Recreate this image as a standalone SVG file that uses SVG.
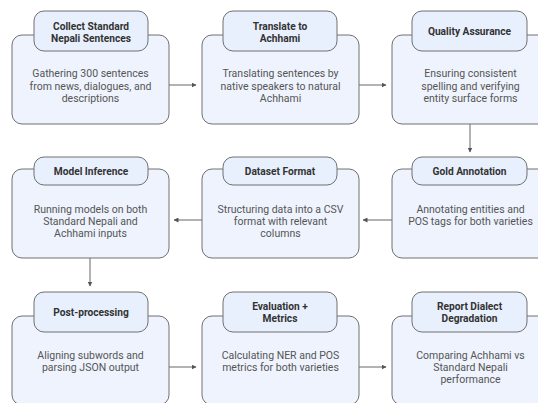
<svg xmlns="http://www.w3.org/2000/svg" width="538" height="403" viewBox="0 0 538 403">
<defs>
<marker id="ah" viewBox="0 0 10 10" refX="9" refY="5" markerWidth="5" markerHeight="5" orient="auto" markerUnits="userSpaceOnUse">
<path d="M0,0 L10,5 L0,10 z" fill="#555"/>
</marker>
</defs>
<style>
.outer{fill:#EEF3FD;stroke:#707070;stroke-width:1}
.title{fill:#E9F0FD;stroke:#707070;stroke-width:1}
.t{font-family:Roboto,"Liberation Sans",sans-serif;font-size:10.2px;font-weight:bold;fill:#333;text-anchor:middle}
.b{font-family:Roboto,"Liberation Sans",sans-serif;font-size:10.5px;fill:#555;text-anchor:middle}
.c{stroke:#666;stroke-width:1;fill:none;marker-end:url(#ah)}
</style>
<rect width="538" height="403" fill="#ffffff"/>
<g id="connectors">
<line class="c" x1="169" y1="85" x2="196" y2="85"/>
<line class="c" x1="359" y1="85" x2="386" y2="85"/>
<line class="c" x1="470" y1="124" x2="470" y2="152"/>
<line class="c" x1="392" y1="220" x2="363" y2="220"/>
<line class="c" x1="202" y1="220" x2="174" y2="220"/>
<line class="c" x1="90" y1="258" x2="90" y2="286"/>
<line class="c" x1="169" y1="367" x2="196" y2="367"/>
<line class="c" x1="359" y1="367" x2="386" y2="367"/>
</g>
<g id="n1">
<rect class="outer" x="12" y="35" width="157" height="89" rx="10"/>
<rect class="title" x="34" y="11" width="114" height="40" rx="10"/>
<text class="t" x="91" y="29.5">Collect Standard</text>
<text class="t" x="91" y="41.5">Nepali Sentences</text>
<text class="b" x="90.5" y="77">Gathering 300 sentences</text>
<text class="b" x="90.5" y="89.5">from news, dialogues, and</text>
<text class="b" x="90.5" y="102">descriptions</text>
</g>
<g id="n2">
<rect class="outer" x="202" y="35" width="157" height="89" rx="10"/>
<rect class="title" x="223" y="11" width="114" height="40" rx="10"/>
<text class="t" x="280" y="29.5">Translate to</text>
<text class="t" x="280" y="41.5">Achhami</text>
<text class="b" x="280.5" y="77">Translating sentences by</text>
<text class="b" x="280.5" y="89.5">native speakers to natural</text>
<text class="b" x="280.5" y="102">Achhami</text>
</g>
<g id="n3">
<rect class="outer" x="392" y="35" width="157" height="89" rx="10"/>
<rect class="title" x="412" y="11" width="115" height="40" rx="10"/>
<text class="t" x="469.5" y="35">Quality Assurance</text>
<text class="b" x="470.5" y="77">Ensuring consistent</text>
<text class="b" x="470.5" y="89.5">spelling and verifying</text>
<text class="b" x="470.5" y="102">entity surface forms</text>
</g>
<g id="n4">
<rect class="outer" x="392" y="169" width="157" height="89" rx="10"/>
<rect class="title" x="412" y="157" width="115" height="28" rx="10"/>
<text class="t" x="469.5" y="175">Gold Annotation</text>
<text class="b" x="470.5" y="213">Annotating entities and</text>
<text class="b" x="470.5" y="225">POS tags for both varieties</text>
</g>
<g id="n5">
<rect class="outer" x="202" y="169" width="157" height="89" rx="10"/>
<rect class="title" x="223" y="157" width="114" height="28" rx="10"/>
<text class="t" x="280" y="175">Dataset Format</text>
<text class="b" x="280.5" y="213">Structuring data into a CSV</text>
<text class="b" x="280.5" y="225">format with relevant</text>
<text class="b" x="280.5" y="237">columns</text>
</g>
<g id="n6">
<rect class="outer" x="12" y="169" width="157" height="89" rx="10"/>
<rect class="title" x="34" y="157" width="114" height="28" rx="10"/>
<text class="t" x="91" y="175">Model Inference</text>
<text class="b" x="90.5" y="213">Running models on both</text>
<text class="b" x="90.5" y="225">Standard Nepali and</text>
<text class="b" x="90.5" y="237">Achhami inputs</text>
</g>
<g id="n7">
<rect class="outer" x="12" y="316" width="157" height="89" rx="10"/>
<rect class="title" x="34" y="292" width="114" height="40" rx="10"/>
<text class="t" x="91" y="316">Post-processing</text>
<text class="b" x="90.5" y="359">Aligning subwords and</text>
<text class="b" x="90.5" y="371">parsing JSON output</text>
</g>
<g id="n8">
<rect class="outer" x="202" y="316" width="157" height="89" rx="10"/>
<rect class="title" x="223" y="292" width="114" height="40" rx="10"/>
<text class="t" x="280" y="310">Evaluation +</text>
<text class="t" x="280" y="322">Metrics</text>
<text class="b" x="280.5" y="359">Calculating NER and POS</text>
<text class="b" x="280.5" y="371">metrics for both varieties</text>
</g>
<g id="n9">
<rect class="outer" x="392" y="316" width="157" height="89" rx="10"/>
<rect class="title" x="412" y="292" width="115" height="40" rx="10"/>
<text class="t" x="469.5" y="310">Report Dialect</text>
<text class="t" x="469.5" y="322">Degradation</text>
<text class="b" x="470.5" y="359">Comparing Achhami vs</text>
<text class="b" x="470.5" y="371">Standard Nepali</text>
<text class="b" x="470.5" y="383">performance</text>
</g>
</svg>
